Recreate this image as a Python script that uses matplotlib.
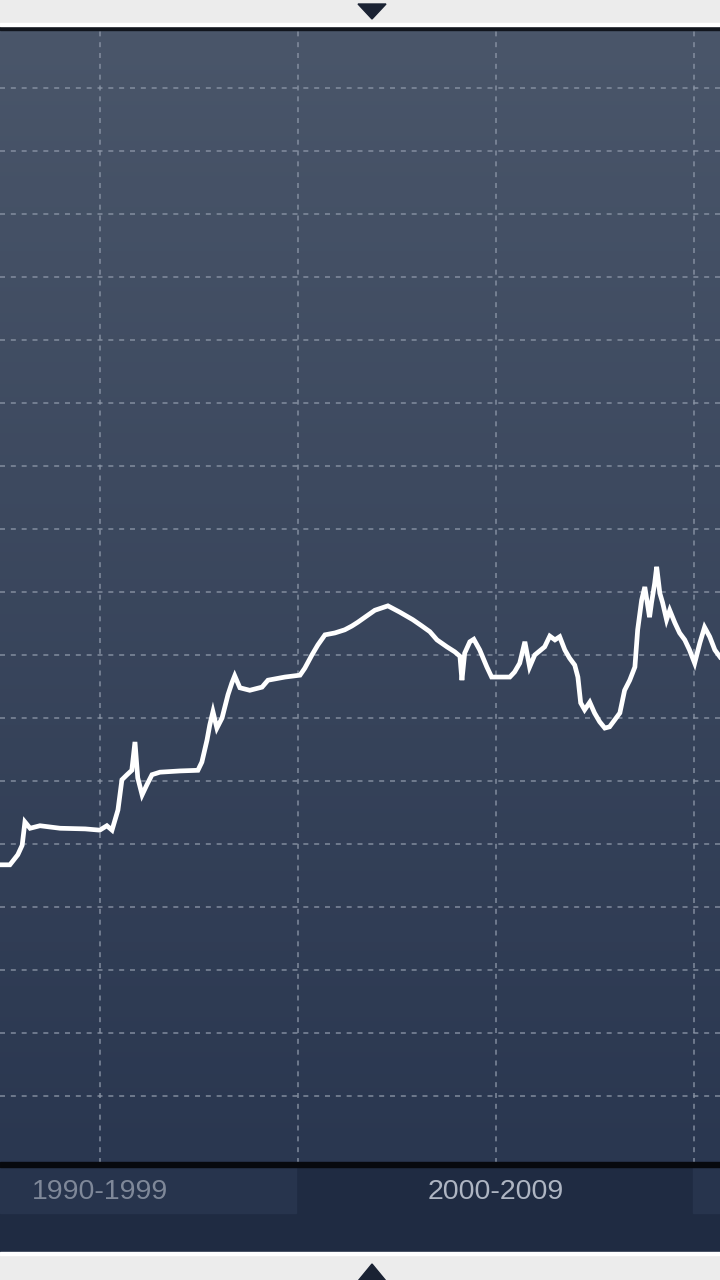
import numpy as np
import matplotlib
matplotlib.use('Agg')
import matplotlib.pyplot as plt
from matplotlib.patches import Polygon, Rectangle

# series (year, index level)
years = [1992.47, 1992.72, 1992.92, 1993.03, 1993.10, 1993.23, 1993.48, 1993.99, 1994.62,
         1994.99, 1995.17, 1995.30, 1995.45, 1995.55, 1995.68, 1995.80, 1995.88, 1995.95,
         1996.06, 1996.18, 1996.31, 1996.51, 1997.02, 1997.47, 1997.57, 1997.70, 1997.77,
         1997.85, 1997.95, 1998.08, 1998.23, 1998.33, 1998.40, 1998.53, 1998.78, 1999.09,
         1999.24, 1999.67, 2000.05, 2000.17, 2000.35, 2000.50, 2000.68, 2000.93, 2001.18,
         2001.36, 2001.51, 2001.69, 2001.94, 2002.27, 2002.57, 2002.90, 2003.13, 2003.33,
         2003.51, 2003.76, 2003.96, 2004.09, 2004.14, 2004.21, 2004.34, 2004.44, 2004.59,
         2004.77, 2004.89, 2005.10, 2005.35, 2005.47, 2005.60, 2005.73, 2005.85, 2005.98,
         2006.23, 2006.36, 2006.49, 2006.61, 2006.74, 2006.86, 2006.99, 2007.07, 2007.14,
         2007.24, 2007.37, 2007.49, 2007.62, 2007.75, 2007.87, 2008.00, 2008.13, 2008.25,
         2008.38, 2008.51, 2008.58, 2008.68, 2008.76, 2008.88, 2008.93, 2009.01, 2009.06,
         2009.14, 2009.21, 2009.31, 2009.39, 2009.52, 2009.64, 2009.77, 2009.89, 2010.02,
         2010.15, 2010.27, 2010.40, 2010.53, 2010.66]
values = [4.67, 4.67, 4.83, 4.98, 5.35, 5.25, 5.29, 5.25, 5.24,
          5.22, 5.29, 5.22, 5.54, 6.02, 6.10, 6.17, 6.62, 6.05,
          5.78, 5.94, 6.10, 6.14, 6.16, 6.17, 6.30, 6.65, 6.89,
          7.10, 6.84, 7.00, 7.37, 7.56, 7.67, 7.48, 7.44, 7.49,
          7.60, 7.65, 7.68, 7.79, 8.00, 8.16, 8.32, 8.35, 8.40,
          8.46, 8.52, 8.60, 8.71, 8.78, 8.68, 8.56, 8.46, 8.37,
          8.24, 8.13, 8.05, 7.98, 7.60, 8.03, 8.21, 8.25, 8.08,
          7.81, 7.65, 7.65, 7.65, 7.73, 7.87, 8.21, 7.81, 8.00,
          8.13, 8.30, 8.24, 8.29, 8.08, 7.95, 7.84, 7.65, 7.24,
          7.13, 7.25, 7.08, 6.94, 6.84, 6.86, 6.97, 7.08, 7.44,
          7.60, 7.81, 8.40, 8.87, 9.08, 8.60, 8.83, 9.14, 9.40,
          8.98, 8.83, 8.56, 8.71, 8.51, 8.35, 8.24, 8.08, 7.87,
          8.19, 8.44, 8.29, 8.08, 7.97]

decade_labels = ['1990-1999', '2000-2009']
decade_label_x = [1995, 2005]
grid_levels = list(range(1, 18))
grid_years = [1995, 2000, 2005, 2010]

W, H = 720, 1280
fig = plt.figure(figsize=(W / 100, H / 100), dpi=100)
fig.patch.set_facecolor('#ececec')

def fy(py):
    return 1 - py / H

# bottom navigator band
fig.add_artist(Rectangle((0, fy(1252)), 1, (1252 - 1163) / H, transform=fig.transFigure,
                         color='#1f2b42', zorder=0))
fig.add_artist(Rectangle((0, fy(1213)), 296 / W, (1213 - 1167) / H, transform=fig.transFigure,
                         color='#27344d', zorder=0))
fig.add_artist(Rectangle((693 / W, fy(1213)), 27 / W, (1213 - 1167) / H, transform=fig.transFigure,
                         color='#27344d', zorder=0))
fig.add_artist(Rectangle((0, fy(1255)), 1, 3 / H, transform=fig.transFigure,
                         color='white', zorder=1))
fig.add_artist(Rectangle((0, fy(1167)), 1, 5 / H, transform=fig.transFigure,
                         color='#07090e', zorder=1))
fig.add_artist(Rectangle((0, fy(30)), 1, 3 / H, transform=fig.transFigure,
                         color='#11151d', zorder=1))
fig.add_artist(Rectangle((0, fy(26)), 1, 3 / H, transform=fig.transFigure,
                         color='#ffffff', zorder=1))

# arrows
fig.add_artist(Polygon([[358 / W, fy(4)], [386 / W, fy(4)], [372 / W, fy(19)]],
                       closed=True, transform=fig.transFigure, color='#1a2233'))
fig.add_artist(Polygon([[358 / W, fy(1281)], [386 / W, fy(1281)], [372 / W, fy(1264)]],
                       closed=True, transform=fig.transFigure, color='#1a2233'))

ax = fig.add_axes([0, fy(1163), 1, (1163 - 30) / H])
x0, x1 = 1992.47, 2010.66
y0, y1 = -0.063, 17.92
ax.set_xlim(x0, x1)
ax.set_ylim(y0, y1)

# background gradient
top = np.array([74, 86, 106]) / 255
bot = np.array([42, 55, 80]) / 255
t = np.linspace(0, 1, 256)[:, None]
grad = (top * (1 - t) + bot * t)[:, None, :]
ax.imshow(grad, extent=[x0, x1, y0, y1], aspect='auto', zorder=0, origin='upper')

for v in grid_levels:
    ax.axhline(v, color='#8d97a8', lw=1.2, ls=(0, (3, 3.5)), alpha=0.8, zorder=1)
for yr in grid_years:
    ax.axvline(yr, color='#8d97a8', lw=1.2, ls=(0, (3, 3.5)), alpha=0.8, zorder=1)

ax.plot(years, values, color='white', lw=3.4, zorder=3, solid_joinstyle='miter')

for s in ax.spines.values():
    s.set_visible(False)
ax.set_xticks([])
ax.set_yticks([])

# decade labels in the navigator
for lab, xl, col in zip(decade_labels, decade_label_x, ['#7f8899', '#aeb5c2']):
    fx = (xl - x0) / (x1 - x0)
    fig.text(fx, fy(1192), lab, ha='center', va='center', fontsize=20.5,
             family='Liberation Sans', color=col)

fig.savefig('out.png', dpi=100, facecolor=fig.get_facecolor())
